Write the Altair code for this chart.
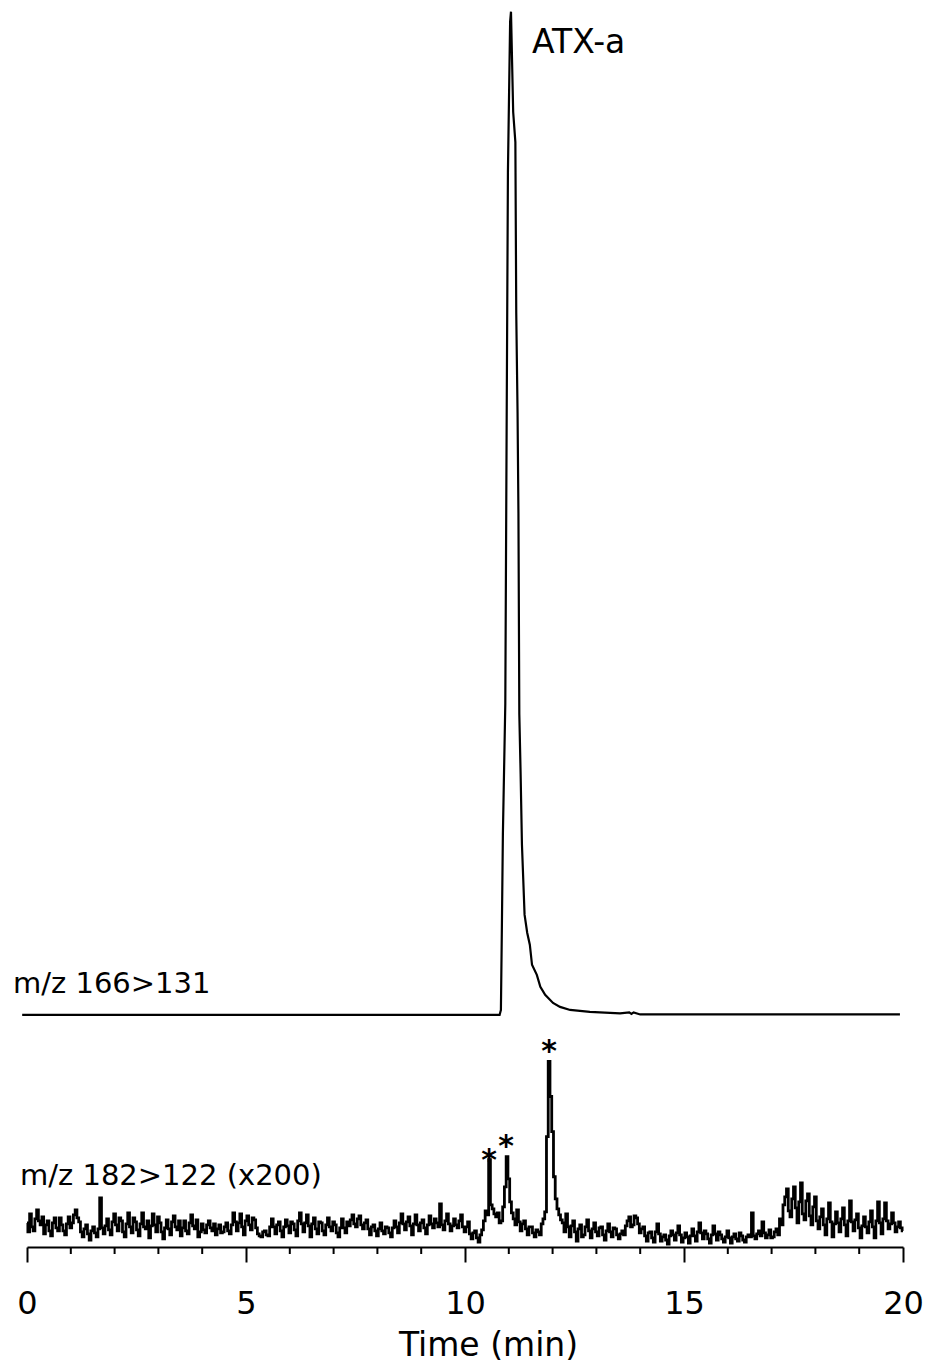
import altair as alt
import pandas as pd

# ---- data ----
# m/z 166>131 trace (relative intensity, %)
top_t = [-0.11, 10.79, 10.82, 10.84, 10.865, 10.92, 10.95, 10.98, 11.03, 11.05,
         11.10, 11.15, 11.17, 11.20, 11.22, 11.24, 11.27, 11.30, 11.33, 11.36,
         11.42, 11.48, 11.53, 11.64, 11.72, 11.83, 12.01, 12.17, 12.40, 12.85,
         13.54, 13.75, 13.80, 13.85, 14.00, 19.93]
top_v = [0, 0, 0.5, 8, 18, 31, 58, 84, 99, 100,
         90, 87, 70, 60, 50, 30, 24, 17, 13.5, 10,
         8.2, 7.0, 5.0, 4.0, 2.8, 2.0, 1.2, 0.8, 0.5, 0.3,
         0.15, 0.25, 0.1, 0.25, 0.05, 0.05]

# m/z 182>122 (x200) trace, sampled every 0.04 min from 0 to 20 min
bottom_v = [
    2.4, 1.5, 3.3, 2.0, 1.6, 2.8, 3.7, 2.6, 2.2, 3.0, 1.3, 2.2, 2.6, 1.6, 1.1, 2.4, 2.9, 1.9, 1.6, 2.9,
    2.2, 1.6, 1.2, 2.3, 3.0, 1.9, 2.4, 3.2, 3.7, 2.9, 2.5, 1.5, 1.0, 1.8, 2.2, 1.3, 0.7, 1.6, 2.0, 1.4,
    1.0, 1.8, 4.9, 1.9, 1.3, 2.1, 2.8, 1.7, 1.2, 2.5, 3.3, 2.2, 1.6, 2.9, 2.6, 1.5, 1.0, 2.3, 3.4, 2.0,
    1.4, 2.9, 2.5, 1.7, 1.1, 2.3, 3.4, 2.0, 1.8, 2.6, 0.9, 2.1, 3.3, 2.2, 1.5, 3.0, 2.4, 1.5, 0.8, 1.9,
    2.7, 1.8, 1.2, 2.5, 3.1, 2.0, 1.7, 2.6, 1.1, 1.9, 2.6, 1.6, 1.3, 2.4, 3.2, 2.1, 1.8, 2.7, 1.0, 1.5,
    2.3, 1.7, 1.4, 2.2, 2.6, 1.9, 1.6, 2.3, 1.2, 1.8, 2.2, 1.4, 1.5, 2.0, 2.4, 1.6, 1.3, 2.2, 3.4, 2.5,
    1.6, 2.4, 3.3, 2.0, 1.2, 2.6, 3.1, 2.2, 1.7, 2.9, 2.7, 1.9, 1.3, 1.1, 1.0, 1.5, 1.6, 1.2, 1.1, 2.0,
    2.8, 2.0, 1.3, 2.2, 2.5, 1.6, 1.0, 2.0, 2.7, 2.1, 1.4, 2.5, 2.3, 1.7, 1.1, 2.6, 3.4, 2.3, 1.5, 2.4,
    3.2, 2.1, 1.0, 2.3, 2.9, 1.8, 1.3, 2.5, 2.4, 1.6, 1.2, 2.2, 2.9, 2.0, 1.6, 2.5, 2.2, 1.4, 1.0, 1.9,
    2.8, 1.9, 1.4, 2.5, 2.1, 2.7, 3.2, 2.3, 2.0, 2.8, 3.1, 2.2, 1.8, 2.4, 2.7, 1.8, 1.2, 2.0, 2.2, 1.6,
    1.1, 1.8, 2.4, 1.6, 1.3, 2.0, 1.9, 1.4, 1.0, 1.9, 2.6, 2.0, 1.4, 2.4, 3.3, 2.3, 1.7, 2.5, 3.0, 2.1,
    1.2, 2.3, 3.2, 2.2, 1.6, 2.4, 2.7, 1.9, 1.3, 2.2, 3.1, 2.3, 1.9, 2.8, 2.4, 2.0, 4.3, 2.2, 1.7, 2.6,
    3.3, 2.3, 1.6, 2.1, 2.8, 2.2, 1.9, 2.6, 3.2, 2.0, 1.5, 2.0, 2.5, 1.3, 0.8, 1.4, 1.6, 0.9, 0.5, 1.2,
    1.7, 2.6, 3.6, 3.2, 8.7, 4.2, 3.8, 3.3, 3.0, 3.4, 2.4, 2.6, 4.0, 6.0, 9.0, 6.8, 4.5, 3.4, 2.8, 2.2,
    3.7, 2.5, 1.6, 2.3, 2.6, 1.8, 1.2, 2.0, 2.0, 1.4, 1.0, 1.7, 1.5, 1.2, 2.3, 2.8, 3.5, 11.0, 18.5, 15.0,
    11.5, 7.0, 4.8, 3.8, 3.2, 2.7, 2.4, 1.5, 3.3, 2.0, 1.0, 2.1, 2.6, 1.5, 0.6, 1.8, 2.2, 1.0, 1.2, 2.0,
    2.7, 1.6, 0.9, 1.8, 2.4, 1.5, 1.1, 1.9, 2.0, 1.2, 0.7, 1.6, 2.3, 1.5, 1.0, 1.9, 1.8, 1.2, 0.8, 1.3,
    1.6, 1.2, 2.1, 2.6, 3.0, 2.0, 2.2, 3.1, 2.9, 2.3, 1.4, 1.8, 2.0, 1.1, 0.6, 1.4, 1.5, 0.9, 0.5, 1.5,
    2.3, 1.3, 0.6, 1.0, 1.2, 0.7, 0.3, 1.1, 1.6, 1.2, 0.7, 1.4, 2.1, 1.2, 0.5, 0.9, 1.4, 1.0, 0.4, 1.1,
    1.8, 1.1, 0.6, 1.5, 2.4, 1.4, 0.8, 1.6, 1.3, 0.8, 0.4, 1.2, 2.1, 1.3, 0.7, 1.5, 1.2, 0.8, 0.5, 1.0,
    1.6, 0.9, 0.4, 1.0, 1.3, 0.8, 0.6, 1.4, 1.1, 0.7, 0.5, 1.0, 1.2, 1.0, 3.4, 1.1, 0.8, 1.3, 1.6, 1.1,
    2.5, 1.4, 0.9, 1.2, 1.7, 0.9, 1.0, 1.5, 1.8, 1.2, 2.8, 2.2, 4.2, 5.0, 5.8, 3.6, 3.0, 4.8, 6.0, 3.9,
    2.4, 4.5, 6.4, 3.3, 2.7, 4.6, 5.3, 3.1, 2.2, 4.0, 5.0, 2.6, 1.8, 3.0, 3.8, 2.2, 1.2, 2.8, 4.4, 2.5,
    1.0, 2.3, 3.5, 2.4, 1.5, 2.8, 3.9, 2.2, 1.1, 2.6, 4.6, 2.5, 1.6, 2.7, 3.3, 1.9, 0.9, 2.1, 3.0, 2.0,
    1.4, 2.5, 3.6, 2.0, 0.9, 2.6, 4.5, 2.4, 1.3, 2.8, 4.4, 2.6, 1.8, 2.3, 3.4, 2.4, 1.5, 2.0, 2.5, 1.9,
    1.6,
]
bottom_t = [round(0.04 * i, 2) for i in range(len(bottom_v))]

major_ticks = [0, 5, 10, 15, 20]
minor_ticks = [1, 2, 3, 4, 6, 7, 8, 9, 11, 12, 13, 14, 16, 17, 18, 19]

trace_labels = ["m/z 166>131", "m/z 182>122 (x200)"]
trace_label_t = [-0.32, -0.16]
trace_label_y = [25.3, 6.2]

peak_label = ["ATX-a"]
peak_label_t = [11.53]
peak_label_y = [119.0]

star_t = [10.55, 10.94, 11.92]
star_y = [7.7, 9.1, 18.5]

TOP_OFFSET = 23.13
FONT = "DejaVu Sans"

xscale = alt.Scale(domain=[0, 20], nice=False, zero=False)
yscale = alt.Scale(domain=[0, 123.3], nice=False, zero=False)

top_df = pd.DataFrame({"t": top_t, "v": top_v})
bot_df = pd.DataFrame({"t": bottom_t, "v": bottom_v})

xaxis = alt.Axis(
    values=major_ticks, title="Time (min)", tickSize=15, tickWidth=2,
    tickColor="black", domainColor="black", domainWidth=2,
    labelFont=FONT, labelFontSize=32, labelColor="black",
    labelBaseline="alphabetic", labelPadding=51, labelFlush=False,
    titleFont=FONT, titleFontSize=33, titleFontWeight="normal", titleColor="black",
    titleBaseline="alphabetic", titleX=461, titleY=108, grid=False,
)

top_line = alt.Chart(top_df).transform_calculate(
    y=f"datum.v + {TOP_OFFSET}"
).mark_line(color="black", strokeWidth=2.2).encode(
    x=alt.X("t:Q", scale=xscale, axis=xaxis),
    y=alt.Y("y:Q", scale=yscale, axis=None),
    order="t:Q",
)

bottom_line = alt.Chart(bot_df).mark_line(
    color="black", strokeWidth=2.8, interpolate="step"
).encode(
    x=alt.X("t:Q", scale=xscale),
    y=alt.Y("v:Q", scale=yscale),
    order="t:Q",
)

minor = alt.Chart(pd.DataFrame({"t": minor_ticks})).mark_rule(
    color="black", strokeWidth=2
).encode(
    x=alt.X("t:Q", scale=xscale),
    y=alt.value(1237),
    y2=alt.value(1244),
)

trace_text = alt.Chart(pd.DataFrame({
    "t": trace_label_t, "y": trace_label_y, "label": trace_labels
})).mark_text(font=FONT, fontSize=29, align="left", baseline="alphabetic", color="black").encode(
    x=alt.X("t:Q", scale=xscale), y=alt.Y("y:Q", scale=yscale), text="label:N"
)

peak_text = alt.Chart(pd.DataFrame({
    "t": peak_label_t, "y": peak_label_y, "label": peak_label
})).mark_text(font=FONT, fontSize=33, align="left", baseline="alphabetic", color="black").encode(
    x=alt.X("t:Q", scale=xscale), y=alt.Y("y:Q", scale=yscale), text="label:N"
)

stars = alt.Chart(pd.DataFrame({
    "t": star_t, "y": star_y, "label": ["*"] * len(star_t)
})).mark_text(font=FONT, fontSize=30, fontWeight="bold", align="center",
              baseline="alphabetic", color="black").encode(
    x=alt.X("t:Q", scale=xscale), y=alt.Y("y:Q", scale=yscale), text="label:N"
)

chart = alt.layer(top_line, bottom_line, minor, trace_text, peak_text, stars).properties(
    width=876, height=1237,
    autosize=alt.AutoSizeParams(type="none"),
    padding={"left": 27, "top": 10, "right": 24, "bottom": 118},
    background="white",
).configure_view(stroke=None)

chart.save("out.html", embed_options={"renderer": "svg", "actions": False})
